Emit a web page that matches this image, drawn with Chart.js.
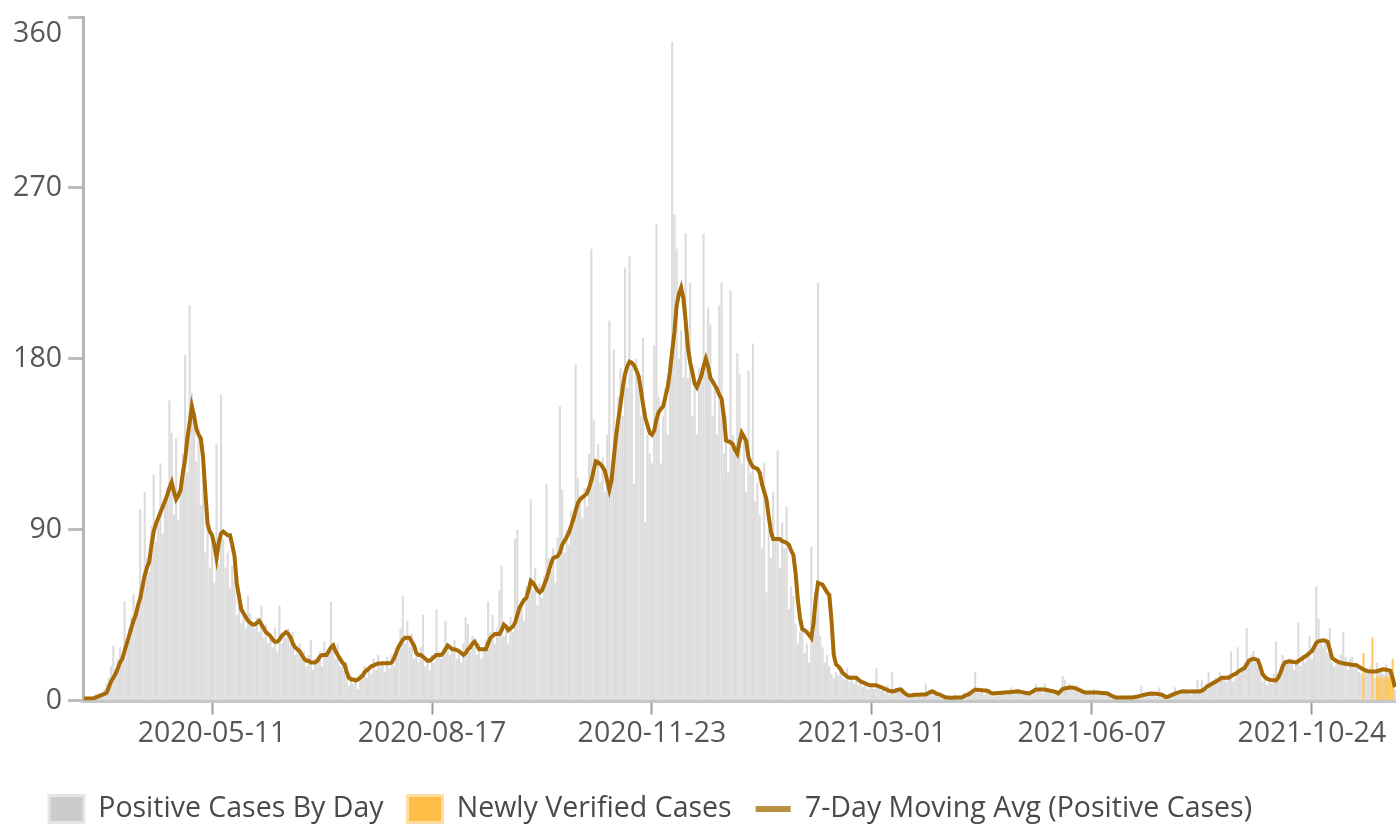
<!DOCTYPE html>
<html lang="en">
<head>
<meta charset="utf-8">
<title>Positive cases by day</title>
<script src="https://cdn.jsdelivr.net/npm/chart.js@4.4.1/dist/chart.umd.min.js"></script>
<style>
  html, body { margin: 0; background: #fff; }
  #grafico { display: block; }
</style>
</head>
<body>
<canvas id="grafico" width="1396" height="824"></canvas>
<script>
// positive cases per reported day, first day 2020-03-15
const positiveCases = [
  0, 1, 0, 2, 1, 3, 2, 4, 3, 6,
  9, 12, 18, 29, 15, 22, 28, 24, 52, 30,
  38, 44, 56, 48, 52, 101, 58, 110, 75, 68,
  92, 119, 84, 96, 125, 88, 104, 112, 158, 141,
  98, 138, 95, 118, 130, 182, 120, 208, 162, 150,
  126, 144, 103, 120, 78, 95, 70, 88, 62, 135,
  72, 161, 85, 70, 78, 59, 71, 64, 45, 52,
  41, 48, 38, 55, 46, 40, 38, 44, 36, 50,
  33, 40, 30, 35, 28, 38, 26, 50, 30, 36,
  33, 38, 30, 36, 24, 28, 30, 22, 26, 18,
  24, 32, 16, 22, 19, 26, 18, 31, 24, 27,
  52, 28, 22, 30, 18, 22, 16, 20, 8, 13,
  9, 12, 6, 14, 11, 18, 12, 17, 14, 22,
  16, 24, 18, 20, 15, 23, 17, 24, 18, 28,
  25, 38, 55, 30, 42, 28, 35, 22, 26, 20,
  28, 45, 18, 22, 16, 24, 20, 48, 26, 22,
  28, 42, 30, 24, 28, 32, 22, 25, 20, 30,
  44, 40, 26, 34, 28, 24, 30, 22, 28, 32,
  52, 36, 45, 30, 38, 58, 71, 34, 40, 30,
  44, 36, 85, 90, 48, 52, 42, 60, 55, 106,
  58, 70, 50, 62, 54, 66, 114, 75, 68, 80,
  62, 86, 155, 111, 78, 90, 82, 100, 92, 177,
  117, 108, 96, 112, 102, 130, 238, 148, 120, 135,
  115, 128, 110, 140, 200, 120, 185, 140, 160, 175,
  150, 228, 165, 234, 175, 114, 180, 165, 150, 191,
  94, 140, 130, 125, 187, 251, 160, 125, 150, 165,
  140, 180, 347, 256, 238, 180, 195, 170, 246, 170,
  220, 150, 165, 140, 175, 170, 246, 180, 207, 198,
  150, 165, 140, 208, 220, 130, 150, 120, 216, 140,
  130, 183, 172, 125, 140, 110, 174, 120, 188, 105,
  115, 98, 80, 125, 57, 90, 75, 110, 85, 132,
  70, 94, 80, 102, 48, 60, 55, 40, 30, 36,
  43, 25, 30, 20, 81, 35, 45, 220, 34, 28,
  20, 24, 18, 14, 12, 15, 13, 18, 12, 11,
  17, 10, 13, 9, 13, 8, 11, 7, 10, 6,
  9, 8, 6, 17, 7, 5, 6, 4, 8, 3,
  15, 4, 6, 5, 7, 3, 4, 2, 3, 2,
  4, 3, 2, 4, 3, 9, 4, 5, 6, 3,
  4, 2, 3, 1, 2, 1, 2, 1, 3, 1,
  2, 1, 4, 3, 5, 4, 6, 15, 5, 4,
  6, 3, 5, 4, 3, 2, 5, 3, 4, 5,
  4, 3, 5, 7, 4, 5, 6, 4, 3, 5,
  3, 4, 5, 6, 9, 5, 7, 4, 9, 6,
  5, 4, 6, 3, 4, 5, 13, 11, 6, 9,
  7, 5, 8, 6, 4, 5, 3, 4, 5, 3,
  6, 4, 5, 3, 4, 5, 3, 2, 1, 2,
  1, 2, 1, 2, 1, 3, 1, 2, 3, 2,
  2, 8, 3, 4, 2, 5, 3, 4, 2, 7,
  3, 2, 1, 3, 2, 4, 7, 3, 5, 4,
  6, 4, 5, 3, 6, 4, 11, 6, 11, 7,
  9, 15, 8, 10, 12, 9, 15, 11, 12, 10,
  14, 26, 10, 12, 28, 14, 18, 20, 38, 22,
  24, 26, 20, 18, 15, 10, 12, 8, 11, 9,
  14, 31, 12, 16, 24, 18, 20, 22, 22, 16,
  19, 41, 18, 24, 20, 26, 34, 22, 28, 60,
  43, 30, 28, 32, 25, 38, 20, 18, 22, 20,
  24, 36, 23, 16, 22, 23, 18, 20, 15, 14,
  12, 16, 14, 18, 16, 12, 20, 17, 15, 14,
  19, 15, 13, 8, 6
];

// 7 day moving average, same days
const movingAvg = [
  1, 1, 1, 1, 1, 1.5, 2, 2.5, 3, 3.5,
  4, 7, 10, 12, 14, 17, 20, 22, 26, 30,
  34, 38, 42, 45, 50, 54, 60, 66, 70, 73,
  82, 89, 93, 96, 99, 102, 105, 108, 112, 115,
  110, 106, 108, 111, 120, 127, 138, 146, 155, 150,
  143, 140, 138, 128, 110, 93, 89, 87, 82, 75,
  83, 88, 89, 88, 87, 87, 82, 76, 62, 55,
  48, 46, 44, 42, 41, 40, 40, 41, 42, 40,
  38, 36, 35, 34, 32, 31, 31, 32, 34, 35,
  36, 35, 33, 30, 28, 27, 26, 24, 22, 21,
  21, 20, 20, 20, 21, 23, 24, 24, 24, 26,
  28, 29, 26, 24, 22, 20, 19, 15, 12, 11,
  11, 10.5, 11, 12, 13, 15, 16, 17, 18, 18.5,
  19, 19.5, 19.5, 19.6, 19.6, 19.6, 19.6, 20, 22, 25,
  28, 30, 32, 33, 33, 33, 31, 29, 25, 24,
  24, 23, 22, 21, 21, 22, 23, 24, 24, 24,
  25, 27, 29, 28, 27, 27, 26.5, 26, 25, 24,
  25, 27, 28, 30, 31, 29, 27, 27, 27, 27,
  30, 33, 34, 35, 35, 35, 37, 40, 39, 37,
  38, 39, 41, 45, 49, 51, 53, 54, 58, 63,
  62, 60, 58, 57, 58, 61, 64, 68, 72, 75,
  75.5, 76, 78, 82, 84, 86, 88.5, 92, 95.5, 100,
  104, 106, 107, 108, 109, 112, 116, 121, 126, 125.5,
  124.5, 123, 121, 116, 111, 116, 128, 139, 148, 156,
  165, 172, 176, 178.5, 178, 176.5, 174, 171, 164, 156,
  149, 145, 141, 140, 142, 148, 152, 153.5, 155, 160,
  165, 173, 184, 194, 208, 214, 217.5, 212, 200, 186,
  178, 173, 167, 165, 168, 171, 176, 180, 176, 170,
  168, 166, 164, 161, 159, 150, 137, 136.5, 136, 135,
  132, 130, 136, 141, 139, 136.5, 128, 125, 123, 122.5,
  122, 120, 114, 110, 106, 97, 89, 85, 85, 85,
  85, 84, 83.5, 83, 82, 79, 76.6, 67, 53, 43,
  37.5, 37, 36, 34.5, 33, 41, 54, 62, 61.5, 61,
  59, 57, 55.5, 42, 24, 19, 18, 16.5, 14.5, 13.5,
  12.5, 12, 12, 12, 12, 11, 10, 9.5, 9, 8.5,
  8, 8, 8, 8, 7.5, 7, 6.5, 6, 5.5, 5,
  4.8, 5, 5.4, 5.8, 5.8, 4.5, 3.5, 2.8, 2.6, 2.8,
  3, 3, 3, 3.1, 3.2, 3.2, 3.8, 4.5, 4.8, 4.2,
  3.5, 3.2, 2.6, 2, 1.6, 1.6, 1.5, 1.5, 1.6, 1.6,
  1.6, 1.6, 2.2, 2.8, 3.2, 4, 5, 5.8, 5.6, 5.5,
  5.4, 5.3, 5.3, 4.8, 4, 3.7, 3.8, 3.9, 4, 4.1,
  4.2, 4.3, 4.4, 4.5, 4.6, 4.7, 4.8, 4.6, 4.4, 4.1,
  3.9, 3.7, 4.3, 5, 5.8, 5.8, 5.8, 5.8, 5.8, 5.5,
  5.3, 5, 4.8, 4.4, 3.8, 4.8, 6, 6.4, 6.6, 6.8,
  6.9, 6.6, 6.2, 5.8, 5.2, 4.7, 4.2, 4.2, 4.2, 4.2,
  4.2, 4.2, 4.2, 4, 3.9, 3.8, 3.7, 3, 2.4, 1.8,
  1.6, 1.6, 1.6, 1.6, 1.6, 1.6, 1.6, 1.6, 1.8, 2,
  2.3, 2.6, 2.9, 3.2, 3.4, 3.6, 3.7, 3.6, 3.5, 3.3,
  3.2, 2.5, 1.8, 2, 2.6, 3.1, 3.6, 4, 4.4, 4.8,
  4.8, 4.8, 4.8, 4.8, 4.8, 4.8, 4.8, 4.8, 5.2, 5.8,
  7, 7.8, 8.5, 9.2, 9.8, 10.5, 11.3, 12, 12, 12,
  12, 12.8, 13.5, 14, 15, 15.8, 16.5, 17, 19, 21,
  21.5, 22, 21.7, 21.2, 18, 14, 12.5, 11.5, 11, 10.8,
  10.7, 10.6, 12, 14.5, 18, 20, 20.4, 20.6, 20.4, 20.2,
  20, 20.8, 21.6, 22.4, 23.2, 24, 25, 26, 28, 30.5,
  31.2, 31.5, 31.7, 31.5, 31, 27, 22.5, 21.5, 20.8, 20.2,
  19.8, 19.6, 19.4, 19.2, 19, 18.8, 18.7, 18.5, 17.8, 17,
  16.4, 15.8, 15.4, 15.3, 15.3, 15.3, 15.4, 15.8, 16.2, 16.4,
  16.2, 16, 15.6, 12, 7
];

// newly verified cases, only the last 16 days have any
const newlyVerified = [null, 25, null, null, null, 33, null, 13, 12, 13, 12, 13, 12, 13, 22, null];

const axisDates = ['2020-05-11', '2020-08-17', '2020-11-23', '2021-03-01', '2021-06-07', '2021-10-24'];
const yTicks = [0, 90, 180, 270, 360];

// one category per reported day (no reports 2021-07-18 .. 2021-08-27)
const days = [];
let dia = new Date(Date.UTC(2020, 2, 15));
while (days.length < positiveCases.length) {
  const s = dia.toISOString().slice(0, 10);
  if (s < '2021-07-18' || s > '2021-08-27') days.push(s);
  dia.setUTCDate(dia.getUTCDate() + 1);
}
const verifiedFull = Array(positiveCases.length - newlyVerified.length).fill(null).concat(newlyVerified);

const fuente = { family: '"Open Sans", sans-serif', size: 28.5 };
const grisTexto = '#575757';

const legendLook = [
  { fillStyle: '#cccccc', strokeStyle: '#e6e6e6', lineWidth: 3, pointStyle: 'rect' },
  { fillStyle: '#ffbe48', strokeStyle: '#ffdca0', lineWidth: 3, pointStyle: 'rect' },
  { fillStyle: '#b8903f', strokeStyle: '#b8903f', lineWidth: 6, pointStyle: 'line' }
];

// legend sits left aligned under the axis, a bit lower than chart.js puts it
const legendPlacement = {
  id: 'legendPlacement',
  afterLayout(chart) {
    const lg = chart.legend;
    const pad = lg.options.labels.padding;
    lg.left = 49 - pad;
    lg.top = 809 - pad - fuente.size / 2;
    lg.bottom = lg.top + lg.height;
  }
};

function dibujar() {
  new Chart(document.getElementById('grafico'), {
    type: 'bar',
    data: {
      labels: days,
      datasets: [
        {
          label: 'Positive Cases By Day',
          data: positiveCases,
          backgroundColor: '#dcdcdc',
          grouped: false,
          barPercentage: 0.95,
          categoryPercentage: 1,
          order: 2
        },
        {
          label: 'Newly Verified Cases',
          data: verifiedFull,
          backgroundColor: '#ffc85e',
          grouped: false,
          barPercentage: 0.95,
          categoryPercentage: 1,
          order: 1
        },
        {
          type: 'line',
          label: '7-Day Moving Avg (Positive Cases)',
          data: movingAvg,
          borderColor: '#a66a06',
          borderWidth: 4,
          pointRadius: 0,
          tension: 0,
          order: 0
        }
      ]
    },
    options: {
      responsive: false,
      animation: false,
      devicePixelRatio: 1,
      layout: { padding: { top: 17, right: 0, bottom: 0, left: 0 } },
      plugins: {
        tooltip: { enabled: false },
        legend: {
          position: 'bottom',
          align: 'start',
          labels: {
            usePointStyle: true,
            pointStyleWidth: 35,
            boxHeight: 27,
            padding: 24,
            color: '#4a4a4a',
            font: fuente,
            sort: (a, b) => a.datasetIndex - b.datasetIndex,
            generateLabels(chart) {
              return Chart.defaults.plugins.legend.labels.generateLabels(chart)
                .map(item => Object.assign(item, legendLook[item.datasetIndex]));
            }
          }
        }
      },
      scales: {
        x: {
          afterFit(scale) {
            scale.height = 61;
            scale.paddingLeft = 0;
            scale.paddingRight = 0;
          },
          grid: { drawOnChartArea: false, offset: false, tickLength: 14, tickWidth: 2, tickColor: '#9a9a9a' },
          border: { color: '#c6c6c6', width: 4 },
          ticks: {
            autoSkip: false,
            maxRotation: 0,
            minRotation: 0,
            padding: 2,
            color: grisTexto,
            font: fuente,
            callback(value) {
              const d = this.getLabelForValue(value);
              return axisDates.includes(d) ? d : null;
            }
          }
        },
        y: {
          min: yTicks[0],
          max: yTicks[yTicks.length - 1],
          afterBuildTicks(scale) {
            scale.ticks = yTicks.map(v => ({ value: v }));
          },
          afterFit(scale) {
            scale.width = 83;
            scale.paddingTop = 0;
            scale.paddingBottom = 0;
          },
          grid: { drawOnChartArea: false, tickLength: 15, tickWidth: 3, tickColor: '#bdbdbd' },
          border: { color: '#b5b5b5', width: 3 },
          ticks: {
            padding: 6,
            color: grisTexto,
            font: fuente,
            // the top label is drawn below its tick, like the original
            callback: v => v === yTicks[yTicks.length - 1] ? ['', String(v)] : String(v)
          }
        }
      }
    },
    plugins: [legendPlacement]
  });
}

document.fonts.load('28px "Open Sans"').then(dibujar, dibujar);
</script>
</body>
</html>
